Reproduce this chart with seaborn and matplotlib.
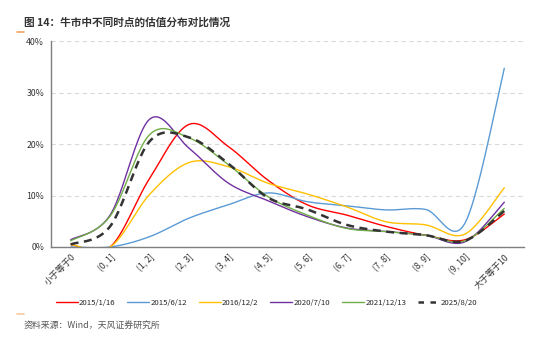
import numpy as np
import pandas as pd
import matplotlib
matplotlib.use("Agg")
import matplotlib.pyplot as plt
from matplotlib.lines import Line2D
from matplotlib.ticker import FuncFormatter
import seaborn as sns

categories = ["小于等于0", "(0, 1]", "(1, 2]", "(2, 3]", "(3, 4]", "(4, 5]",
              "(5, 6]", "(6, 7]", "(7, 8]", "(8, 9]", "(9, 10]", "大于等于10"]

s_2015_1_16 = [0.5, 0.0, 13.3, 23.8, 19.5, 13.0, 8.2, 6.2, 4.0, 2.3, 1.4, 6.4]
s_2015_6_12 = [0.0, 0.0, 2.0, 5.6, 8.2, 10.5, 8.8, 8.0, 7.2, 7.3, 4.6, 34.7]
s_2016_12_2 = [0.5, 0.0, 10.2, 16.4, 15.6, 12.4, 10.3, 7.8, 4.9, 4.3, 2.5, 11.5]
s_2020_7_10 = [1.4, 6.2, 24.8, 19.2, 12.4, 9.0, 5.9, 3.7, 3.0, 2.3, 1.0, 8.7]
s_2021_12_13 = [1.2, 6.0, 21.8, 21.2, 16.0, 9.8, 6.2, 3.6, 3.0, 2.3, 1.2, 7.5]
s_2025_8_20 = [0.5, 4.0, 20.5, 21.3, 16.2, 9.6, 7.3, 4.3, 3.0, 2.3, 1.2, 7.0]

series = [
    ("2015/1/16", s_2015_1_16, "#FF0000", "-"),
    ("2015/6/12", s_2015_6_12, "#5B9BD5", "-"),
    ("2016/12/2", s_2016_12_2, "#FFC000", "-"),
    ("2020/7/10", s_2020_7_10, "#7030A0", "-"),
    ("2021/12/13", s_2021_12_13, "#70AD47", "-"),
    ("2025/8/20", s_2025_8_20, "#333333", "--"),
]


def smooth(vals, n=24):
    """Excel-like smoothed line (Catmull-Rom Bezier)."""
    y = np.asarray(vals, float)
    x = np.arange(len(y), dtype=float)
    P = np.column_stack([x, y])
    Pe = np.vstack([P[0], P, P[-1]])
    out = []
    t = np.linspace(0, 1, n, endpoint=False)[:, None]
    for i in range(len(P) - 1):
        p0, p1, p2, p3 = Pe[i], Pe[i + 1], Pe[i + 2], Pe[i + 3]
        c1 = p1 + (p2 - p0) / 6.0
        c2 = p2 - (p3 - p1) / 6.0
        b = ((1 - t) ** 3) * p1 + 3 * ((1 - t) ** 2) * t * c1 + 3 * (1 - t) * t ** 2 * c2 + t ** 3 * p2
        out.append(b)
    out.append(P[-1][None, :])
    B = np.vstack(out)
    return B[:, 0], B[:, 1]


sns.set_style("white")
plt.rcParams["font.family"] = ["Noto Sans CJK SC", "DejaVu Sans"]
plt.rcParams["axes.unicode_minus"] = False

fig = plt.figure(figsize=(5.5, 3.44), dpi=100)
ax = fig.add_axes([51 / 550, 1 - 247 / 344, (524 - 51) / 550, (247 - 41) / 344])

handles = []
for name, vals, color, ls in series:
    xs, ys = smooth(vals)
    df = pd.DataFrame({"x": xs, "y": ys})
    if ls == "--":
        sns.lineplot(data=df, x="x", y="y", ax=ax, color=color, linewidth=1.8,
                     linestyle=(0, (3.2, 2.2)), sort=False, estimator=None, zorder=5)
        handles.append(Line2D([], [], color=color, lw=1.8, linestyle=(0, (2.2, 2.6))))
    else:
        sns.lineplot(data=df, x="x", y="y", ax=ax, color=color, linewidth=1.0,
                     sort=False, estimator=None)
        handles.append(Line2D([], [], color=color, lw=1.0))

ax.set_xlim(-0.5, len(categories) - 0.5)
ax.set_ylim(0, 40)
ax.set_yticks([0, 10, 20, 30, 40])
ax.yaxis.set_major_formatter(FuncFormatter(lambda v, p: f"{int(v)}%"))
ax.set_xticks(np.arange(len(categories)))
ax.set_xticklabels(categories, rotation=45, ha="right", rotation_mode="anchor",
                   fontsize=6.3, color="#333333")
ax.set_xticks(np.arange(len(categories) + 1) - 0.5, minor=True)
ax.tick_params(axis="x", which="major", length=0, pad=4)
ax.tick_params(axis="x", which="minor", length=3, color="#666666", width=0.8)
ax.tick_params(axis="y", length=3, color="#666666", width=0.8, labelsize=6.3,
               labelcolor="#333333", pad=2)
ax.set_xlabel("")
ax.set_ylabel("")
ax.yaxis.grid(True, linestyle=(0, (4, 3)), color="#D9D9D9", linewidth=0.8)
ax.set_axisbelow(True)
for side in ["top", "right"]:
    ax.spines[side].set_visible(False)
for side in ["left", "bottom"]:
    ax.spines[side].set_color("#7F7F7F")
    ax.spines[side].set_linewidth(1.0)

fig.legend(handles, [s[0] for s in series], loc="center", ncol=6,
           bbox_to_anchor=(0.485, 1 - 303 / 344), frameon=False, fontsize=5.6,
           handlelength=2.8, handletextpad=0.2, columnspacing=1.5)

fig.text(24 / 550, 1 - 22 / 344, "图 14：牛市中不同时点的估值分布对比情况", fontsize=7.7,
         fontweight="bold", color="#333333", va="center", ha="left")
fig.add_artist(Line2D([17 / 550, 24 / 550], [1 - 32 / 344, 1 - 32 / 344], color="#F4A460", lw=1.2))
fig.add_artist(Line2D([17 / 550, 24 / 550], [1 - 314 / 344, 1 - 314 / 344], color="#F8C9A0", lw=1.2))
fig.text(24 / 550, 1 - 326 / 344, "资料来源：Wind，天风证券研究所", fontsize=6.4,
         color="#555555", va="center", ha="left")

fig.savefig("out.png", dpi=100)
